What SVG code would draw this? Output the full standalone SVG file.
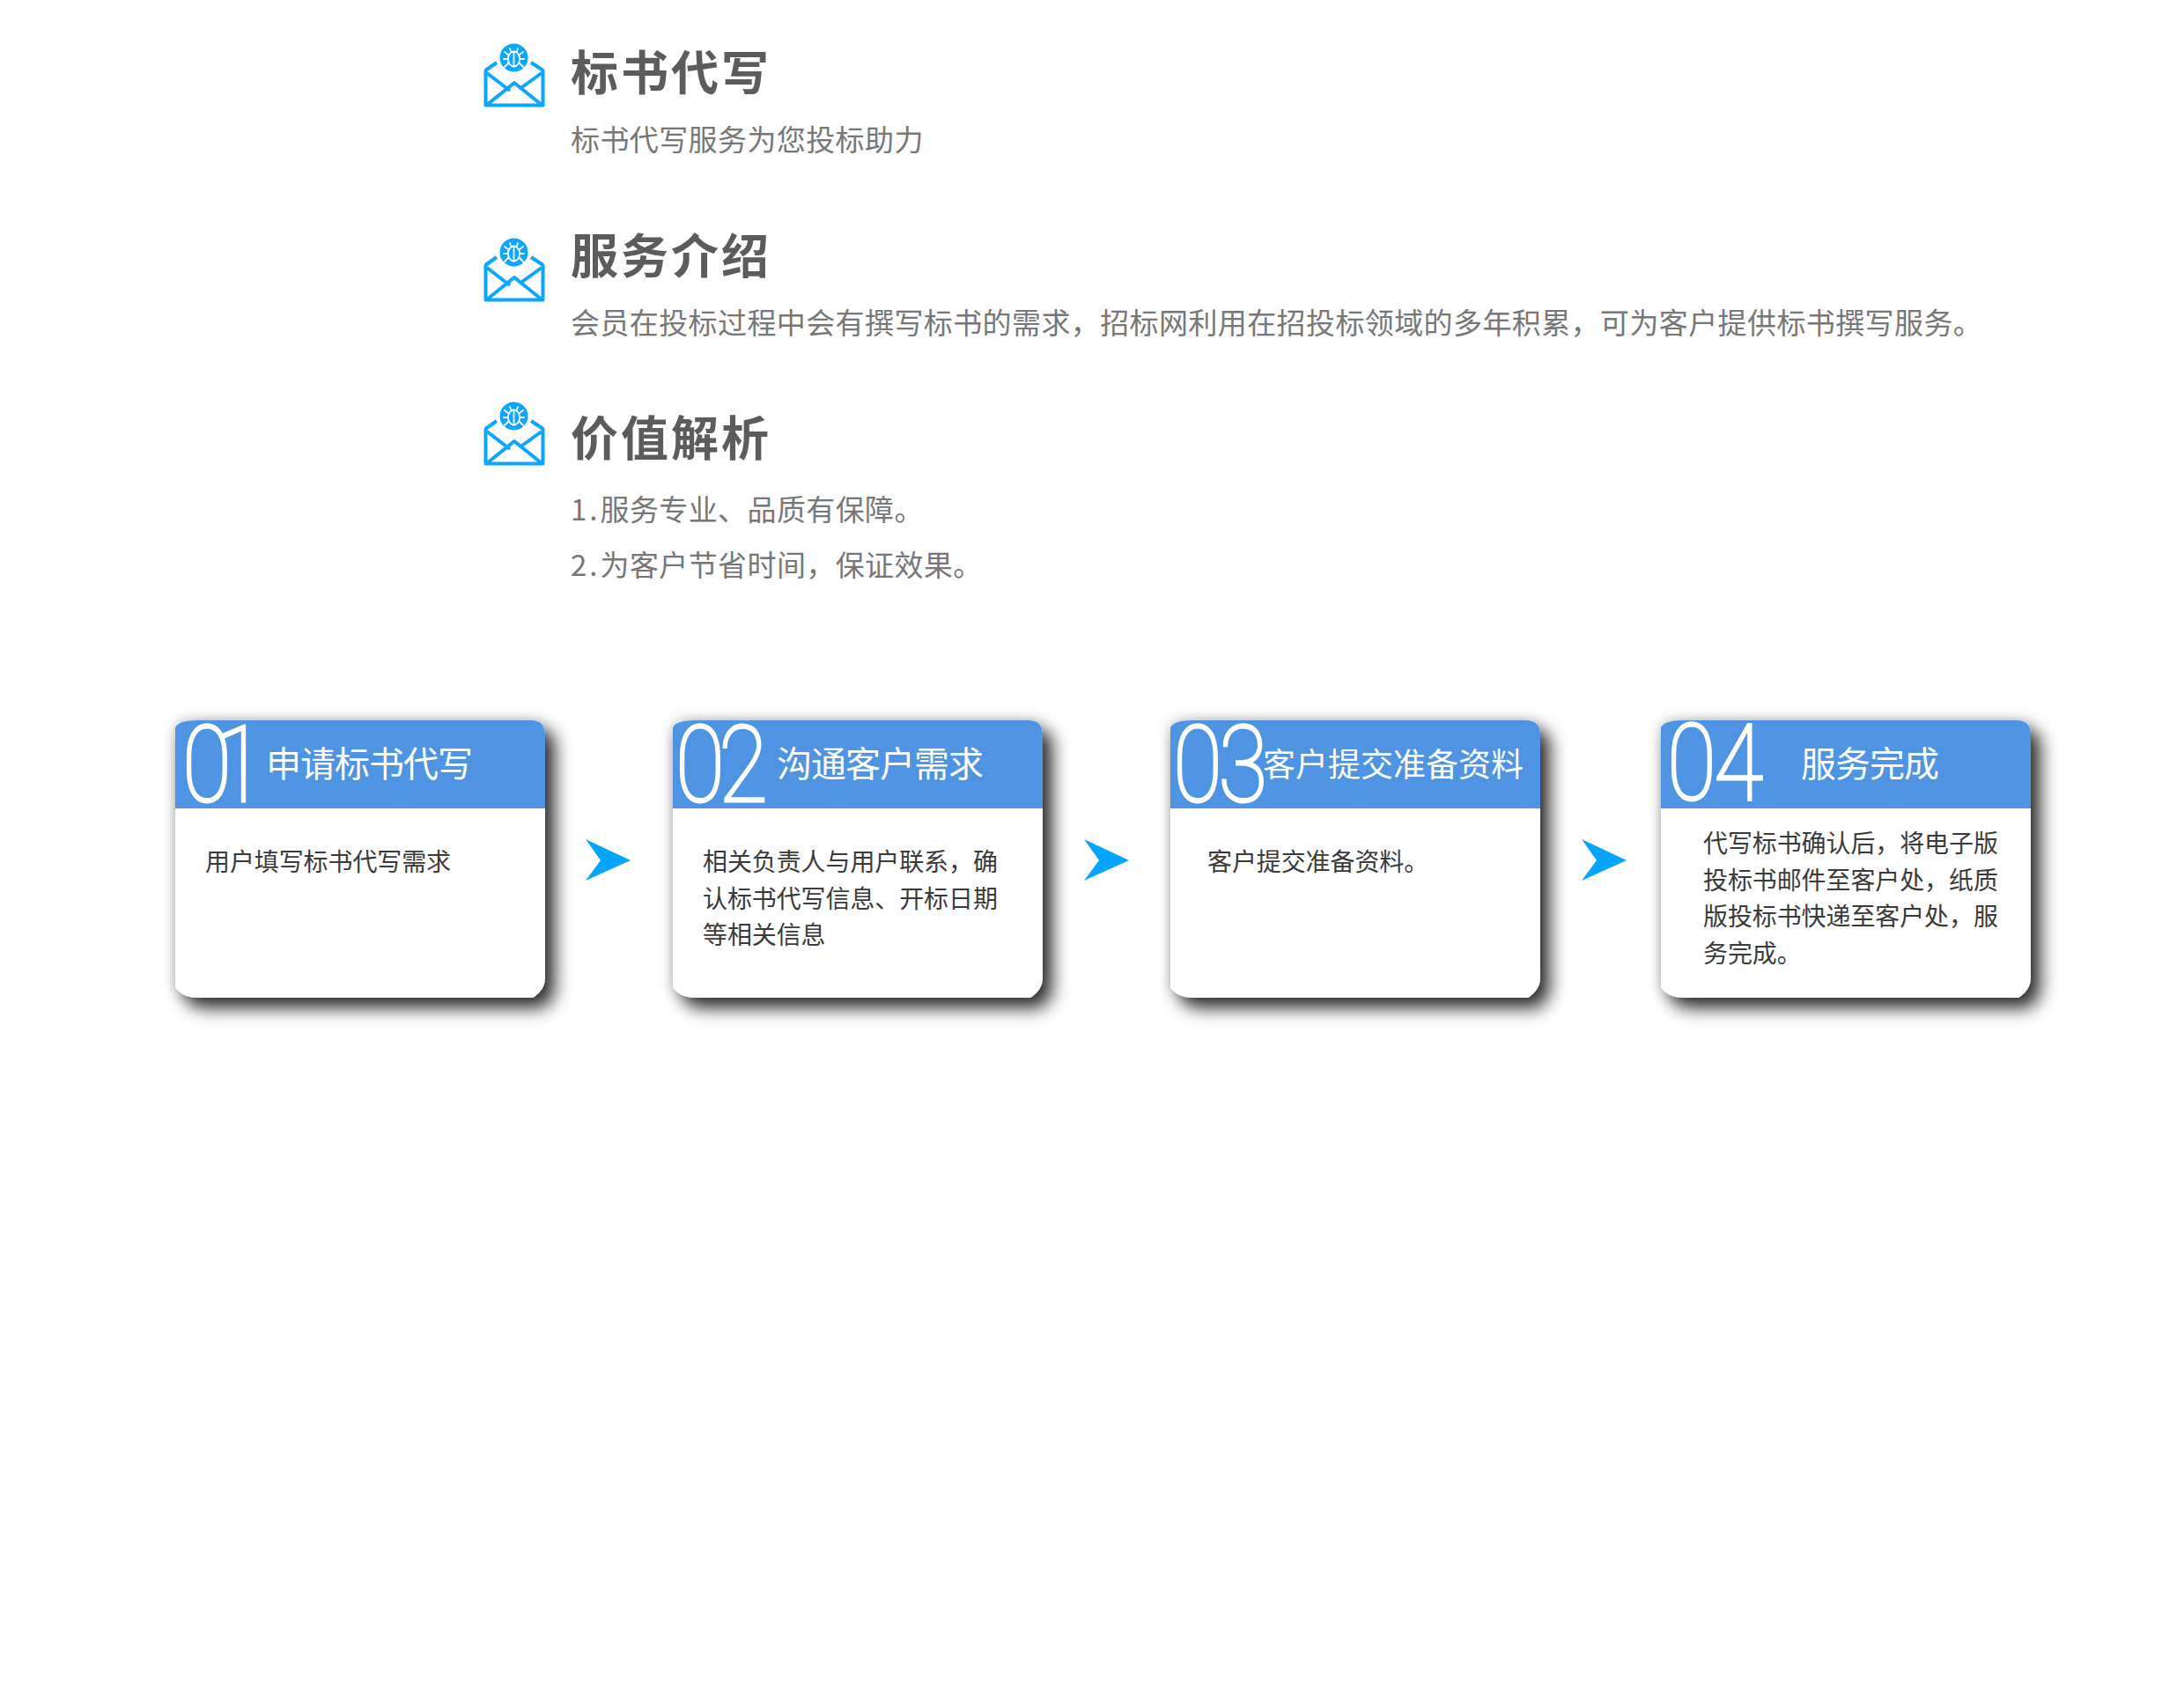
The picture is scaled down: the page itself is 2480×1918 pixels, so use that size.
<svg xmlns="http://www.w3.org/2000/svg" width="2480" height="1918" viewBox="0 0 2480 1918">
<style>
text{font-family:"Noto Sans CJK SC","Noto Sans",sans-serif}
.h{font-size:54px;font-weight:700;fill:#5c5c5c;letter-spacing:3px}
.s{font-size:33px;fill:#777;letter-spacing:.4px}
.d{letter-spacing:3px}
.t{font-size:40px;fill:#fff;letter-spacing:-1px}
.b{font-size:28px;fill:#3a3a3a;letter-spacing:-.1px}
.n{font-family:Roboto,"Liberation Sans",sans-serif;font-weight:100;font-size:120px;fill:#fff;stroke:#fff;stroke-width:3px}
.body{fill:#fff}.head{fill:#5094e2}
.arrow{fill:#05a5fe}
.env{fill:none;stroke:#0aa6ff;stroke-width:4;stroke-linejoin:round}
.bug{fill:none;stroke:#fff;stroke-width:1.800;stroke-linecap:round}
</style>
<defs>
<filter id="sh" x="-15%" y="-15%" width="130%" height="130%">
<feGaussianBlur in="SourceAlpha" stdDeviation="10" result="b1"/>
<feOffset in="b1" dx="11" dy="12" result="o1"/>
<feComponentTransfer in="o1" result="o2"><feFuncA type="linear" slope="0.8"/></feComponentTransfer>
<feGaussianBlur in="SourceAlpha" stdDeviation="8" result="b2"/>
<feComponentTransfer in="b2" result="o3"><feFuncA type="linear" slope="0.25"/></feComponentTransfer>
<feMerge><feMergeNode in="o3"/><feMergeNode in="o2"/><feMergeNode in="SourceGraphic"/></feMerge>
</filter>
<path id="cb" d="M0 8Q4 0 24 0H404Q420 0 420 16V292Q420 306 406 315H26Q8 315 0 303Z"/>
<path id="ch" d="M0 100V8Q4 0 24 0H404Q420 0 420 16V100Z"/>
<g id="icon">
<path class="env" d="M564 70L552 78.500Q551.500 79 551.500 81V118.500H616.500V81Q616.500 79 616 78.500L603 70"/>
<path class="env" d="M553 82L579 102M615 82L590 100M553 118L584 93L615 118"/>
<circle cx="583.500" cy="64.500" r="16" fill="#0aa6ff"/>
<g class="bug"><ellipse cx="583.500" cy="66" rx="6.500" ry="8.500"/><path d="M583.500 57.500V74.500M580 57L579 54M587 57L588 54M577 61L573 58M590 61L594 58M577 66H572M590 66H595M577 71L573 75M590 71L594 75"/></g>
</g>
</defs>

<g id="sec1"><use href="#icon" y="1"/><text class="h" x="648" y="103">标书代写</text><text class="s" x="648" y="171">标书代写服务为您投标助力</text></g>
<g id="sec2"><use href="#icon" y="222"/><text class="h" x="648" y="311">服务介绍</text><text class="s" x="648" y="379">会员在投标过程中会有撰写标书的需求，招标网利用在招投标领域的多年积累，可为客户提供标书撰写服务。</text></g>
<g id="sec3"><use href="#icon" y="408"/><text class="h" x="648" y="518">价值解析</text><text class="s" x="648" y="591"><tspan class="d">1.</tspan>服务专业、品质有保障。</text><text class="s" x="648" y="654"><tspan class="d">2.</tspan>为客户节省时间，保证效果。</text></g>

<g id="card1"><g transform="translate(199 818)" filter="url(#sh)"><use href="#cb" class="body"/><use href="#ch" class="head"/></g>
<text class="n" style="letter-spacing:-21px" transform="translate(207 910) scale(.85 1)">01</text>
<text class="t" x="302" y="882">申请标书代写</text>
<text class="b" x="233" y="989">用户填写标书代写需求</text></g>

<g id="card2"><g transform="translate(764 818)" filter="url(#sh)"><use href="#cb" class="body"/><use href="#ch" class="head"/></g>
<text class="n" style="letter-spacing:-8px" transform="translate(767 910) scale(.85 1)">02</text>
<text class="t" x="882" y="882">沟通客户需求</text>
<text class="b" x="798" y="989">相关负责人与用户联系，确</text>
<text class="b" x="798" y="1030.500">认标书代写信息、开标日期</text>
<text class="b" x="798" y="1072">等相关信息</text></g>

<g id="card3"><g transform="translate(1329 818)" filter="url(#sh)"><use href="#cb" class="body"/><use href="#ch" class="head"/></g>
<text class="n" style="letter-spacing:-5px" transform="translate(1332 910) scale(.85 1)">03</text>
<text class="t" style="font-size:37px;letter-spacing:0" x="1434" y="881.500">客户提交准备资料</text>
<text class="b" x="1371" y="989">客户提交准备资料。</text></g>

<g id="card4"><g transform="translate(1886 818)" filter="url(#sh)"><use href="#cb" class="body"/><use href="#ch" class="head"/></g>
<text class="n" style="letter-spacing:-3px" transform="translate(1893 908) scale(.85 1)">04</text>
<text class="t" x="2045" y="882">服务完成</text>
<text class="b" x="1934" y="968">代写标书确认后，将电子版</text>
<text class="b" x="1934" y="1009.500">投标书邮件至客户处，纸质</text>
<text class="b" x="1934" y="1051">版投标书快递至客户处，服</text>
<text class="b" x="1934" y="1093">务完成。</text></g>

<g id="connectors">
<path class="arrow" d="M665 953L716 977L665 1000L682 977Z"/>
<path class="arrow" d="M1231 953L1282 977L1231 1000L1248 977Z"/>
<path class="arrow" d="M1796 953L1847 977L1796 1000L1813 977Z"/>
</g>
</svg>
